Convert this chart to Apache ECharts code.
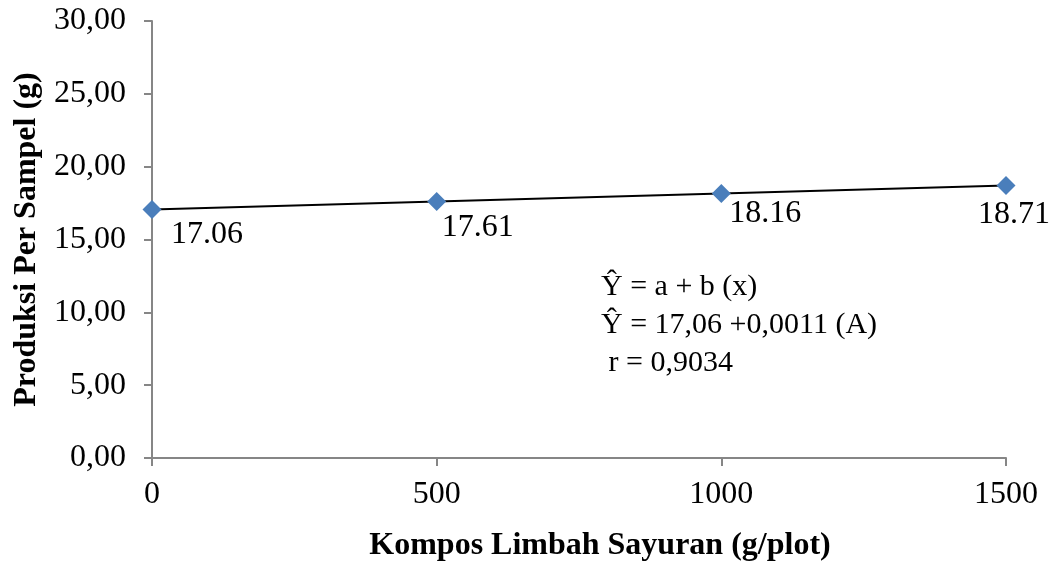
<!DOCTYPE html>
<html>
<head>
<meta charset="utf-8">
<script src="https://cdn.jsdelivr.net/npm/echarts@6/dist/echarts.min.js"></script>
<style>
  html, body { margin: 0; padding: 0; background: #ffffff; }
  #chart { width: 1054px; height: 567px; }
</style>
</head>
<body>
<div id="chart"></div>
<script>
// Compost dose (g/plot) and yield per sample (g)
const doses = [0, 500, 1000, 1500];
const yields = [17.06, 17.61, 18.16, 18.71];
const yTicks = { min: 0, max: 30, step: 5 };
const xTicks = { min: 0, max: 1500, step: 500 };
const equationLines = ['\u0176 = a + b (x)', '\u0176 = 17,06 +0,0011 (A)', ' r = 0,9034'];

// label placement around each marker (styling only)
const labelOffsets = [[55, 25], [41, 26], [44, 20], [8, 29]];

const FONT = '"Liberation Serif", "Times New Roman", serif';
const AXIS_GREY = '#868686';

const chart = echarts.init(document.getElementById('chart'), null, { renderer: 'canvas' });

const seriesData = doses.map((d, i) => ({
  value: [d, yields[i]],
  label: { offset: labelOffsets[i] }
}));

chart.setOption({
  animation: false,
  backgroundColor: '#ffffff',
  grid: { left: 152, right: 48, top: 21, bottom: 108, containLabel: false },
  xAxis: {
    type: 'value',
    min: xTicks.min, max: xTicks.max, interval: xTicks.step,
    name: 'Kompos Limbah Sayuran (g/plot)',
    nameLocation: 'middle',
    nameGap: 72,
    nameTextStyle: { fontFamily: FONT, fontWeight: 'bold', fontSize: 32, color: '#000', padding: [0, 0, 0, 42] },
    axisLine: { show: true, lineStyle: { color: AXIS_GREY, width: 2 } },
    axisTick: { show: true, inside: false, length: 8, lineStyle: { color: AXIS_GREY, width: 2 } },
    axisLabel: { fontFamily: FONT, fontSize: 32, color: '#000', margin: 21, formatter: v => String(v) },
    splitLine: { show: false }
  },
  yAxis: {
    type: 'value',
    min: yTicks.min, max: yTicks.max, interval: yTicks.step,
    name: 'Produksi Per Sampel (g)',
    nameLocation: 'middle',
    nameGap: 106,
    nameTextStyle: { fontFamily: FONT, fontWeight: 'bold', fontSize: 32, color: '#000' },
    axisLine: { show: true, lineStyle: { color: AXIS_GREY, width: 2 } },
    axisTick: { show: true, inside: false, length: 8, lineStyle: { color: AXIS_GREY, width: 2 } },
    axisLabel: {
      fontFamily: FONT, fontSize: 32, color: '#000', margin: 26,
      formatter: v => v.toFixed(2).replace('.', ',')
    },
    splitLine: { show: false }
  },
  series: [{
    type: 'line',
    data: seriesData,
    symbol: 'diamond',
    symbolSize: 19,
    itemStyle: { color: '#4A7EBB' },
    lineStyle: { color: '#000000', width: 2 },
    label: {
      show: true,
      position: 'inside',
      fontFamily: FONT, fontSize: 32, color: '#000',
      formatter: p => p.value[1].toFixed(2)
    },
    z: 3
  }],
  graphic: equationLines.map((t, i) => ({
    type: 'text',
    left: 601,
    top: 272 + i * 38,
    style: { text: t, font: '30px ' + FONT, fill: '#000' }
  }))
});
</script>
</body>
</html>
